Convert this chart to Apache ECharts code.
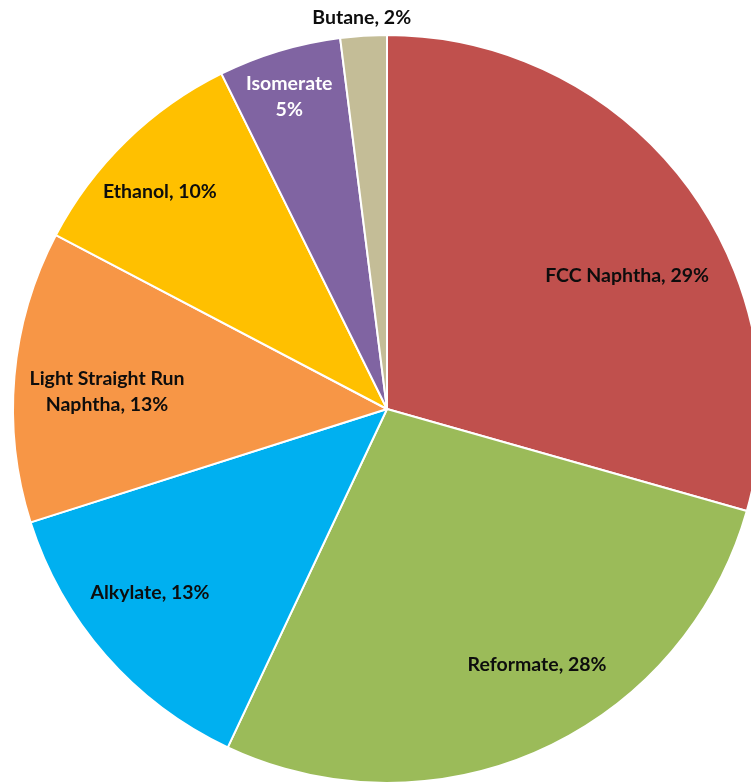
<!DOCTYPE html>
<html>
<head>
<meta charset="utf-8">
<script src="https://cdn.jsdelivr.net/npm/echarts@6/dist/echarts.min.js"></script>
<style>html,body{margin:0;padding:0;background:#fff}#c{width:751px;height:784px}</style>
</head>
<body>
<div id="c"></div>
<script>
// Data
const categories = ['FCC Naphtha', 'Reformate', 'Alkylate', 'Light Straight Run\nNaphtha', 'Ethanol', 'Isomerate', 'Butane'];
const values = [29.4, 27.6, 13.1, 12.6, 10.0, 5.3, 2.0];
const separators = [', ', ', ', ', ', ', ', ', ', '\n', ', '];

// Styles
const colors = ['#C0504D', '#9BBB59', '#00B0F0', '#F79646', '#FFC000', '#8064A2', '#C4BD97'];
const labelColors = ['#0d0d0d', '#0d0d0d', '#0d0d0d', '#0d0d0d', '#0d0d0d', '#fff', '#0d0d0d'];
// label placement: [angle clockwise from top (deg), radius fraction]
const labelPolar = [[61.0, 0.734], [149.6, 0.793], [232.2, 0.802], [273.5, 0.75], [313.7, 0.84], [342.6, 0.874], [356.3, 1.048]];
const CX = 387, CY = 409, R = 374;

const chart = echarts.init(document.getElementById('c'), null, {renderer: 'canvas'});
chart.setOption({
  animation: false,
  series: [{
    type: 'pie',
    center: [CX, CY],
    radius: R,
    startAngle: 90,
    clockwise: true,
    silent: true,
    emphasis: {disabled: true},
    itemStyle: {borderColor: '#fff', borderWidth: 2},
    labelLine: {show: false},
    label: {
      show: true,
      position: 'inside',
      fontFamily: 'Lato',
      fontWeight: 'bold',
      fontSize: 19.5,
      lineHeight: 26,
      align: 'center',
      formatter: function (p) {
        return p.name + separators[p.dataIndex] + Math.round(p.percent) + '%';
      }
    },
    labelLayout: function (p) {
      const lp = labelPolar[p.dataIndex];
      const a = lp[0] * Math.PI / 180;
      return {
        x: CX + Math.sin(a) * lp[1] * R,
        y: CY - Math.cos(a) * lp[1] * R,
        align: 'center',
        verticalAlign: 'middle'
      };
    },
    data: categories.map(function (n, i) {
      return {
        name: n,
        value: values[i],
        itemStyle: {color: colors[i]},
        label: {color: labelColors[i]}
      };
    })
  }]
});
</script>
</body>
</html>
